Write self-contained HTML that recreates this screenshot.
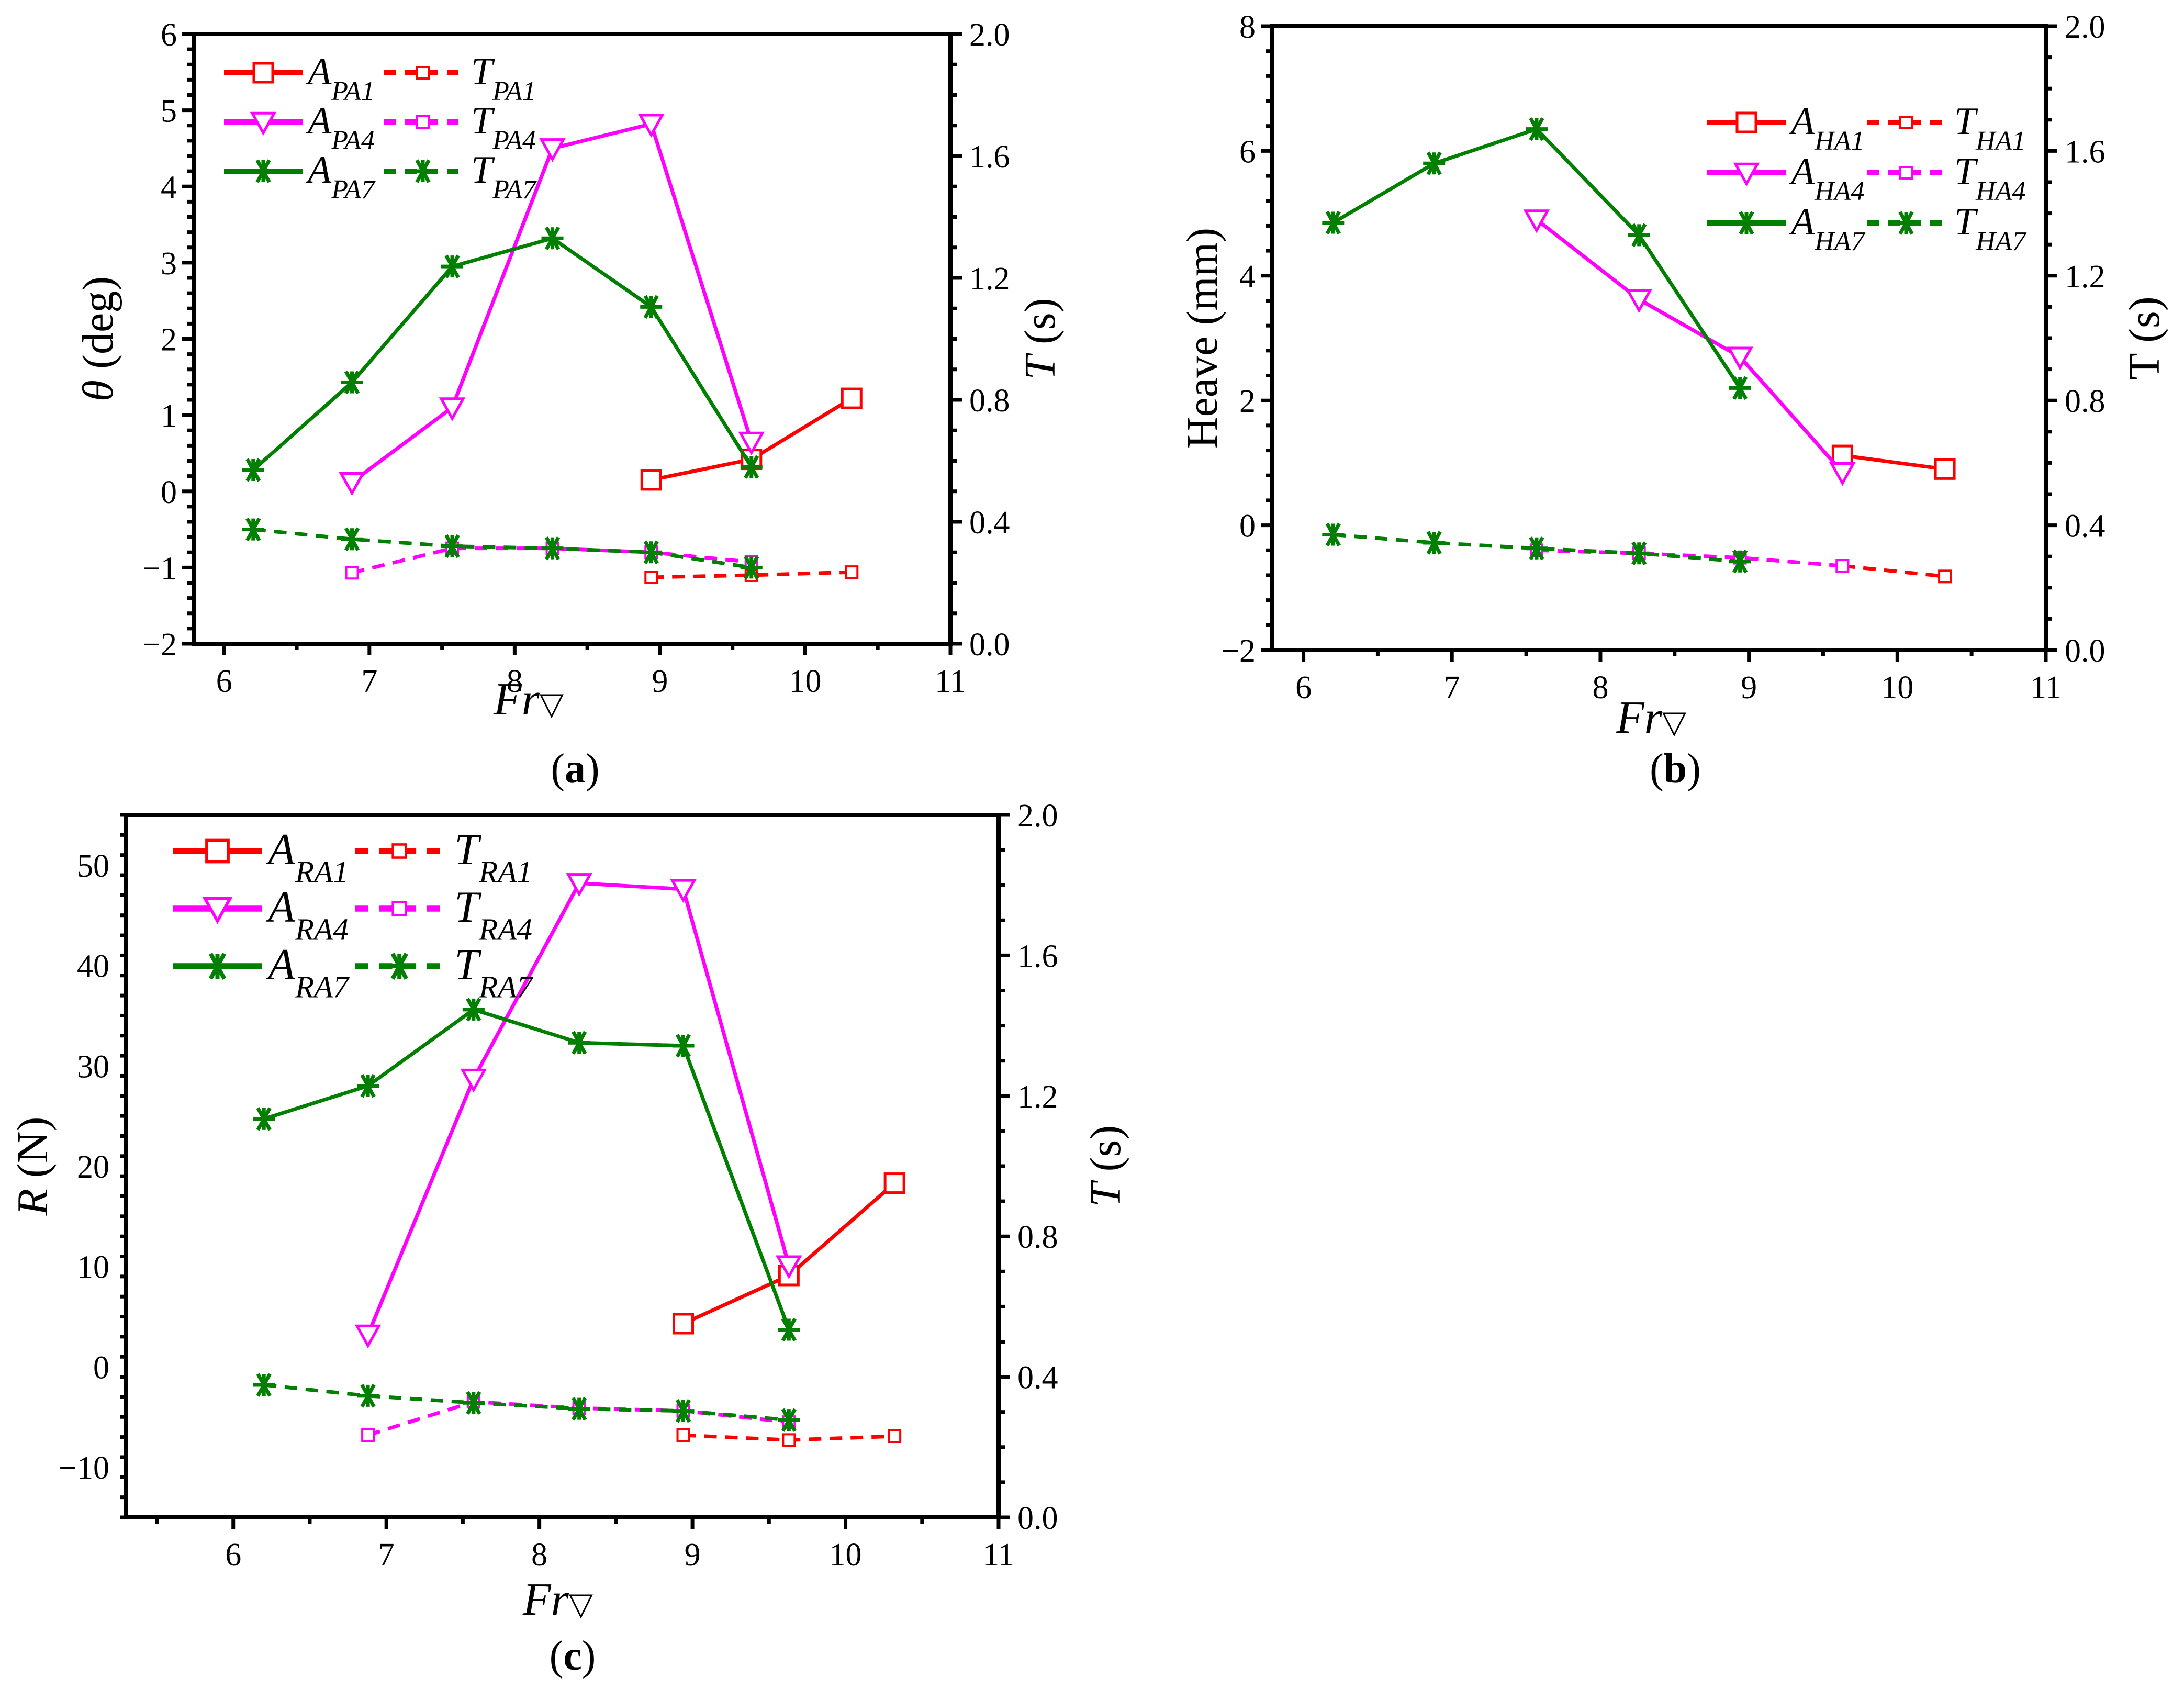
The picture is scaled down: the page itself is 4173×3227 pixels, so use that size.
<!DOCTYPE html>
<html><head><meta charset="utf-8"><style>
html,body{margin:0;padding:0;background:#fff;}
svg{display:block;font-family:"Liberation Serif",serif;}
</style></head><body>
<svg id="fig" width="4173" height="3227" viewBox="0 0 4173 3227" xmlns="http://www.w3.org/2000/svg"></svg>
<script>
// shared x categories
const frValues = [6.2, 6.88, 7.57, 8.26, 8.94, 9.63, 10.32];
// panel (a) pitch
const aPA1 = [null, null, null, null, 0.15, 0.42, 1.22];
const aPA4 = [null, 0.12, 1.1, 4.5, 4.82, 0.65, null];
const aPA7 = [0.28, 1.43, 2.95, 3.32, 2.42, 0.32, null];
const tPA1 = [null, null, null, null, 0.218, 0.225, 0.235];
const tPA4 = [null, 0.233, 0.313, 0.313, 0.30, 0.268, null];
const tPA7 = [0.375, 0.343, 0.32, 0.313, 0.30, 0.25, null];
// panel (b) heave
const aHA1 = [null, null, null, null, null, 1.12, 0.9];
const aHA4 = [null, null, 4.9, 3.62, 2.7, 0.85, null];
const aHA7 = [4.85, 5.8, 6.35, 4.65, 2.2, null, null];
const tHA1 = [null, null, null, null, null, 0.27, 0.236];
const tHA4 = [null, null, 0.32, 0.31, 0.296, 0.27, null];
const tHA7 = [0.37, 0.344, 0.326, 0.31, 0.284, null, null];
// panel (c) resistance
const aRA1 = [null, null, null, null, 4.3, 9.1, 18.3];
const aRA4 = [null, 3.2, 28.7, 48.2, 47.6, 10.1, null];
const aRA7 = [24.7, 28.0, 35.6, 32.3, 32.0, 3.7, null];
const tRA1 = [null, null, null, null, 0.234, 0.22, 0.231];
const tRA4 = [null, 0.234, 0.329, 0.311, 0.303, 0.271, null];
const tRA7 = [0.377, 0.346, 0.326, 0.309, 0.303, 0.277, null];
// tick labels
const xTicks = [6, 7, 8, 9, 10, 11];
const tTicks = ["0.0", "0.4", "0.8", "1.2", "1.6", "2.0"];
const yTicksA = ["6", "5", "4", "3", "2", "1", "0", "−1", "−2"];
const yTicksB = ["8", "6", "4", "2", "0", "−2"];
const yTicksC = ["50", "40", "30", "20", "10", "0", "−10"];

const NS = "http://www.w3.org/2000/svg";
const svg = document.getElementById("fig");
function el(tag, attrs, parent, text) {
  const e = document.createElementNS(NS, tag);
  for (const k in attrs) e.setAttribute(k, attrs[k]);
  if (text !== undefined) e.textContent = text;
  (parent || svg).appendChild(e);
  return e;
}
const RED = "#ff0000", MAG = "#ff00ff", GRN = "#007f00";

function marker(g, kind, x, y, color, small) {
  let m;
  if (kind === "sq") {
    const s = small ? 22 : 36;
    m = el("rect", {x: x - s/2, y: y - s/2, width: s, height: s, fill: "#fff", stroke: color, "stroke-width": small ? 4 : 5}, g);
  } else if (kind === "tri") {
    const s = 21;
    m = el("path", {d: `M${x-s},${y-s*0.8} L${x+s},${y-s*0.8} L${x},${y+s} Z`, fill: "#fff", stroke: color, "stroke-width": 5}, g);
  } else {
    const s = 21;
    m = el("path", {d: `M${x-s},${y} L${x+s},${y} M${x-s*0.55},${y-s} L${x+s*0.55},${y+s} M${x-s*0.55},${y+s} L${x+s*0.55},${y-s} M${x},${y-s} L${x},${y+s}`, stroke: color, "stroke-width": 7, fill: "none"}, g);
  }
  
  
}

function subLabel(g, x, y, main, sub) {
  const t = el("text", {x: x, y: y + 22, "font-size": 74, "font-style": "italic", fill: "#000"}, g);
  el("tspan", {}, t, main);
  el("tspan", {"font-size": 52, dy: 30}, t, sub);
  return t;
}

function panel(cfg) {
  const g = el("g", {}, svg);
  
  
  const {L, R, T, B, x0, x1, ymin, ymax} = cfg;
  const sx = v => L + (v - x0) / (x1 - x0) * (R - L);
  const sy = v => B - (v - ymin) / (ymax - ymin) * (B - T);
  const st = v => B - v / 2.0 * (B - T);
  const fr = el("rect", {x: L, y: T, width: R - L, height: B - T, fill: "none", stroke: "#000", "stroke-width": 8}, g);
  
  
  for (let v = Math.ceil(x0 * 2) / 2; v <= x1 + 1e-9; v += 0.5) {
    const major = Math.abs(v - Math.round(v)) < 1e-9;
    el("line", {x1: sx(v), x2: sx(v), y1: B, y2: B + (major ? 22 : 12), stroke: "#000", "stroke-width": 7}, g);
  }
  xTicks.forEach(v => {
    const t = el("text", {x: sx(v), y: B + 92, "font-size": 62, "text-anchor": "middle"}, g, String(v));
    
    
  });
  const yl = cfg.yTicks;
  const majors = yl.map(s => parseFloat(s.replace("−", "-")));
  const mstep = Math.abs(majors[0] - majors[1]);
  const minorN = cfg.minorN;
  for (let v = ymin; v <= ymax + 1e-9; v += mstep / minorN) {
    const isMajor = majors.some(m => Math.abs(m - v) < 1e-6);
    el("line", {x1: L, x2: L - (isMajor ? 22 : 12), y1: sy(v), y2: sy(v), stroke: "#000", "stroke-width": 7}, g);
  }
  yl.forEach((s, i) => {
    const t = el("text", {x: L - 32, y: sy(majors[i]) + 22, "font-size": 62, "text-anchor": "end"}, g, s);
    
    
  });
  for (let k = 0; k <= 20; k++) {
    const v = k * 0.1;
    const isMajor = k % 4 === 0;
    el("line", {x1: R, x2: R + (isMajor ? 22 : 12), y1: st(v), y2: st(v), stroke: "#000", "stroke-width": 7}, g);
  }
  tTicks.forEach(s => {
    const t = el("text", {x: R + 36, y: st(parseFloat(s)) + 22, "font-size": 62}, g, s);
    
    
  });
  cfg.series.forEach(s => {
    const pts = [];
    frValues.forEach((xv, i) => {
      const v = s.vals[i];
      if (v === null) return;
      pts.push([sx(xv), s.right ? st(v) : sy(v)]);
    });
    const pl = el("polyline", {points: pts.map(p => p.join(",")).join(" "), fill: "none", stroke: s.color, "stroke-width": 7, "stroke-dasharray": s.right ? "24,16" : "none"}, g);
    
    
    pts.forEach(p => marker(g, s.mk, p[0], p[1], s.color, s.right && s.mk === "sq"));
  });
  const sc = cfg.lgScale || 1;
  const lg = el("g", {transform: `translate(${cfg.lgX},${cfg.lgY}) scale(${sc})`}, g);
  
  
  cfg.legend.forEach((e, i) => {
    const y = i * cfg.lgDy / sc;
    const x = 0;
    el("line", {x1: x, x2: x + 150, y1: y, y2: y, stroke: e.color, "stroke-width": 10}, lg);
    marker(lg, e.mkA, x + 75, y, e.color, false);
    const ta = subLabel(lg, x + 160, y, "A", e.sub);
    
    
    el("line", {x1: x + 306, x2: x + 454, y1: y, y2: y, stroke: e.color, "stroke-width": 10, "stroke-dasharray": "22,18"}, lg);
    marker(lg, e.mkT, x + 380, y, e.color, e.mkT === "sq");
    const tt = subLabel(lg, x + 472, y, "T", e.sub);
    
    
  });
  const yt = el("text", {x: 0, y: 0, "font-size": 84, "text-anchor": "middle", transform: `translate(${cfg.ytX},${(T + B) / 2}) rotate(-90)`}, g);
  
  
  cfg.ytParts.forEach(p => el("tspan", p.it ? {"font-style": "italic"} : {}, yt, p.t));
  const rt = el("text", {x: 0, y: 0, "font-size": 84, "text-anchor": "middle", transform: `translate(${cfg.rtX},${(T + B) / 2}) rotate(-90)`}, g);
  
  
  el("tspan", cfg.rtItalic ? {"font-style": "italic"} : {}, rt, "T");
  el("tspan", {}, rt, " (s)");
  const xt = el("text", {x: cfg.xtX, y: cfg.xtY, "font-size": 88, "text-anchor": "middle", "font-style": "italic"}, g);
  
  
  el("tspan", {}, xt, "Fr");
  el("tspan", {"font-style": "normal", "font-size": 60, "font-family": "DejaVu Sans"}, xt, "▽");
  const pl = el("text", {x: cfg.plX, y: cfg.plY, "font-size": 80, "text-anchor": "middle"}, g);
  
  
  el("tspan", {}, pl, "(");
  el("tspan", {"font-weight": "bold"}, pl, cfg.letter);
  el("tspan", {}, pl, ")");
}

panel({name: "panel-a-pitch", letter: "a", L: 370, R: 1816, T: 65, B: 1230, x0: 5.79, x1: 11, ymin: -2, ymax: 6,
  yTicks: yTicksA, minorN: 5,
  series: [
    {id: "t-pa1", vals: tPA1, color: RED, mk: "sq", right: true},
    {id: "t-pa4", vals: tPA4, color: MAG, mk: "sq", right: true},
    {id: "t-pa7", vals: tPA7, color: GRN, mk: "st", right: true},
    {id: "a-pa1", vals: aPA1, color: RED, mk: "sq"},
    {id: "a-pa4", vals: aPA4, color: MAG, mk: "tri"},
    {id: "a-pa7", vals: aPA7, color: GRN, mk: "st"}],
  legend: [{sub: "PA1", color: RED, mkA: "sq", mkT: "sq"}, {sub: "PA4", color: MAG, mkA: "tri", mkT: "sq"}, {sub: "PA7", color: GRN, mkA: "st", mkT: "st"}],
  lgX: 428, lgY: 139, lgDy: 94,
  ytX: 215, ytParts: [{t: "θ", it: true}, {t: " (deg)"}], rtX: 2015, rtItalic: true,
  xtX: 1010, xtY: 1365, plX: 1099, plY: 1495});

panel({name: "panel-b-heave", letter: "b", L: 2431, R: 3909, T: 50, B: 1242, x0: 5.79, x1: 11, ymin: -2, ymax: 8,
  yTicks: yTicksB, minorN: 5,
  series: [
    {id: "t-ha1", vals: tHA1, color: RED, mk: "sq", right: true},
    {id: "t-ha4", vals: tHA4, color: MAG, mk: "sq", right: true},
    {id: "t-ha7", vals: tHA7, color: GRN, mk: "st", right: true},
    {id: "a-ha1", vals: aHA1, color: RED, mk: "sq"},
    {id: "a-ha4", vals: aHA4, color: MAG, mk: "tri"},
    {id: "a-ha7", vals: aHA7, color: GRN, mk: "st"}],
  legend: [{sub: "HA1", color: RED, mkA: "sq", mkT: "sq"}, {sub: "HA4", color: MAG, mkA: "tri", mkT: "sq"}, {sub: "HA7", color: GRN, mkA: "st", mkT: "st"}],
  lgX: 3262, lgY: 234, lgDy: 96,
  ytX: 2325, ytParts: [{t: "Heave (mm)"}], rtX: 4125, rtItalic: false,
  xtX: 3155, xtY: 1400, plX: 3201, plY: 1495});

panel({name: "panel-c-resistance", letter: "c", L: 241, R: 1908, T: 1557, B: 2899, x0: 5.3, x1: 11, ymin: -15, ymax: 55,
  yTicks: yTicksC, minorN: 5,
  series: [
    {id: "t-ra1", vals: tRA1, color: RED, mk: "sq", right: true},
    {id: "t-ra4", vals: tRA4, color: MAG, mk: "sq", right: true},
    {id: "t-ra7", vals: tRA7, color: GRN, mk: "st", right: true},
    {id: "a-ra1", vals: aRA1, color: RED, mk: "sq"},
    {id: "a-ra4", vals: aRA4, color: MAG, mk: "tri"},
    {id: "a-ra7", vals: aRA7, color: GRN, mk: "st"}],
  legend: [{sub: "RA1", color: RED, mkA: "sq", mkT: "sq"}, {sub: "RA4", color: MAG, mkA: "tri", mkT: "sq"}, {sub: "RA7", color: GRN, mkA: "st", mkT: "st"}],
  lgX: 330, lgY: 1626, lgDy: 110, lgScale: 1.14,
  ytX: 90, ytParts: [{t: "R", it: true}, {t: " (N)"}], rtX: 2140, rtItalic: true,
  xtX: 1066, xtY: 3085, plX: 1094, plY: 3190});
</script>
</body></html>
